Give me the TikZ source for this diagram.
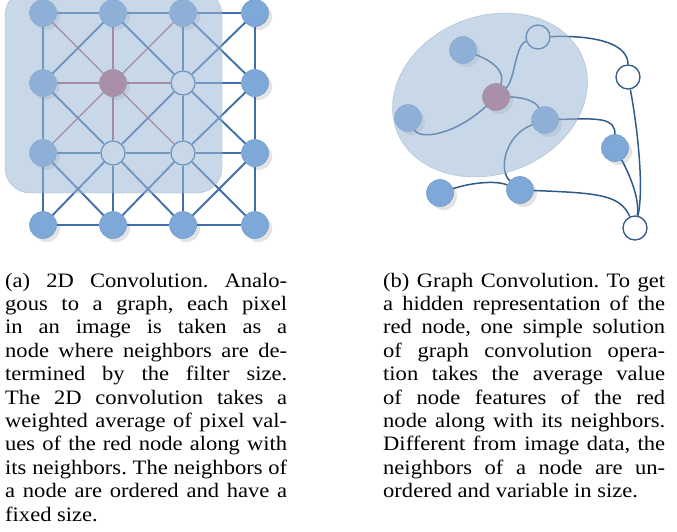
\documentclass[tikz,border=0pt]{standalone}
\usepackage{fontspec}
\setmainfont{Liberation Serif}[FakeStretch=1.1]
\usetikzlibrary{shadows}
\definecolor{pixel}{HTML}{7EA8D8}
\definecolor{pixeldark}{HTML}{6A95C6}
\definecolor{gridline}{HTML}{3E6FA8}
\definecolor{graphline}{HTML}{2F5B8A}
\definecolor{redpixel}{HTML}{B86070}
\definecolor{redline}{HTML}{B05468}
\definecolor{filter}{HTML}{9DB8D6}

\begin{document}
\begin{tikzpicture}[x=1pt,y=-1pt,
  pix/.style={circle,fill=pixel,draw=pixeldark,line width=0.5pt,minimum size=27pt,inner sep=0pt,
    drop shadow={opacity=0.22,shadow xshift=3.5pt,shadow yshift=-3.5pt}},
  redpix/.style={pix,fill=redpixel,draw=redpixel!85!black},
  hollow/.style={circle,fill=white,draw=#1,line width=1.3pt,minimum size=24pt,inner sep=0pt},
  gline/.style={gridline,line width=1.9pt},
  rline/.style={redline,line width=1.1pt},
  cline/.style={graphline,line width=1.5pt},
  caption/.style={anchor=base west,inner sep=0pt,text width=282pt,align=justify,
    font=\fontsize{20.5}{23.4}\selectfont\frenchspacing}]
  \useasboundingbox (0,0) rectangle (677,531);

  % (a) image grid
  \node[pix] (n11) at (43,13) {};  \node[pix] (n21) at (113,13) {};  \node[pix] (n31) at (183,13) {};  \node[pix] (n41) at (255,13) {};
  \node[pix] (n12) at (43,83) {};  \node[redpix] (n22) at (113,83) {};  \node[hollow=gridline] (n32) at (183,83) {};  \node[pix] (n42) at (255,83) {};
  \node[pix] (n13) at (43,153) {};  \node[hollow=gridline] (n23) at (113,153) {};  \node[hollow=gridline] (n33) at (183,153) {};  \node[pix] (n43) at (255,153) {};
  \node[pix] (n14) at (43,225) {};  \node[pix] (n24) at (113,225) {};  \node[pix] (n34) at (183,225) {};  \node[pix] (n44) at (255,225) {};

  \draw[gline] (n11) -- (n21) -- (n31) -- (n41);
  \draw[gline] (n32) -- (n42);
  \draw[gline] (n13) -- (n23) -- (n33) -- (n43);
  \draw[gline] (n14) -- (n24) -- (n34) -- (n44);
  \draw[gline] (n11) -- (n12) -- (n13) -- (n14);
  \draw[gline] (n23) -- (n24);
  \draw[gline] (n31) -- (n32) -- (n33) -- (n34);
  \draw[gline] (n41) -- (n42) -- (n43) -- (n44);
  \draw[gline] (n33) -- (n44);
  \draw[gline] (n21) -- (n32) -- (n43);
  \draw[gline] (n31) -- (n42);
  \draw[gline] (n12) -- (n23) -- (n34);
  \draw[gline] (n13) -- (n24);
  \draw[gline] (n21) -- (n12);
  \draw[gline] (n41) -- (n32) -- (n23) -- (n14);
  \draw[gline] (n42) -- (n33) -- (n24);
  \draw[gline] (n43) -- (n34);
  % red node to its neighbors
  \draw[rline] (n22) -- (n11);  \draw[rline] (n22) -- (n21);  \draw[rline] (n22) -- (n31);
  \draw[rline] (n22) -- (n12);  \draw[rline] (n22) -- (n32);
  \draw[rline] (n22) -- (n13);  \draw[rline] (n22) -- (n23);  \draw[rline] (n22) -- (n33);

  % filter
  \begin{scope}
    \clip (0,0) rectangle (677,531);
    \fill[filter,opacity=0.55,rounded corners=25pt] (5,-10) rectangle (222,193);
    \draw[filter!80!black,opacity=0.5,rounded corners=25pt] (5,-10) rectangle (222,193);
  \end{scope}

  % (b) graph
  \node[pix] (ga) at (463,50) {};
  \node[redpix] (gred) at (496,97) {};
  \node[hollow=graphline] (gb) at (538,37) {};
  \node[pix] (gc) at (408,118) {};
  \node[pix] (gd) at (545,120) {};
  \node[hollow=graphline] (ge) at (628,77) {};
  \node[pix] (gf) at (615,148) {};
  \node[pix] (gg) at (440,193) {};
  \node[pix] (gh) at (520,190) {};
  \node[hollow=graphline] (gi) at (635,228) {};

  \draw[cline] (ga) .. controls (490,60) and (506,70) .. (gred);
  \draw[cline] (gc) .. controls (420,140) and (455,135) .. (gred);
  \draw[cline] (gred) .. controls (515,80) and (515,45) .. (gb);
  \draw[cline] (gred) .. controls (520,97) and (535,100) .. (gd);
  \draw[cline] (gd) .. controls (600,118) and (615,118) .. (gf);
  \draw[cline] (gd) .. controls (505,135) and (498,170) .. (gh);
  \draw[cline] (gg) .. controls (470,183) and (495,180) .. (gh);
  \draw[cline] (gh) .. controls (600,193) and (620,195) .. (gi);
  \draw[cline] (gb) .. controls (600,35) and (628,45) .. (ge);
  \draw[cline] (ge) .. controls (638,130) and (644,190) .. (gi);
  \draw[cline] (gf) .. controls (630,175) and (640,200) .. (gi);

  % neighborhood
  \fill[filter,opacity=0.55,rotate around={21:(490,95)}] (490,95) ellipse [x radius=100, y radius=79];
  \draw[filter!80!black,opacity=0.5,rotate around={21:(490,95)}] (490,95) ellipse [x radius=100, y radius=79];

  % captions
  \node[caption] (capa) at (5,287) {\tolerance=9999 (a) 2D Convolution. Analo-\linebreak
    gous to a graph, each pixel\linebreak in an image is taken as a\linebreak
    node where neighbors are de-\linebreak termined by the filter size.\linebreak
    The 2D convolution takes a\linebreak weighted average of pixel val-\linebreak
    ues of the red node along with\linebreak its neighbors. The neighbors of\linebreak
    a node are ordered and have a\linebreak fixed size.};
  \node[caption] (capb) at (383,287) {\tolerance=9999 (b) Graph Convolution. To get\linebreak
    a hidden representation of the\linebreak red node, one simple solution\linebreak
    of graph convolution opera-\linebreak tion takes the average value\linebreak
    of node features of the red\linebreak node along with its neighbors.\linebreak
    Different from image data, the\linebreak neighbors of a node are un-\linebreak
    ordered and variable in size.};
\end{tikzpicture}
\end{document}
